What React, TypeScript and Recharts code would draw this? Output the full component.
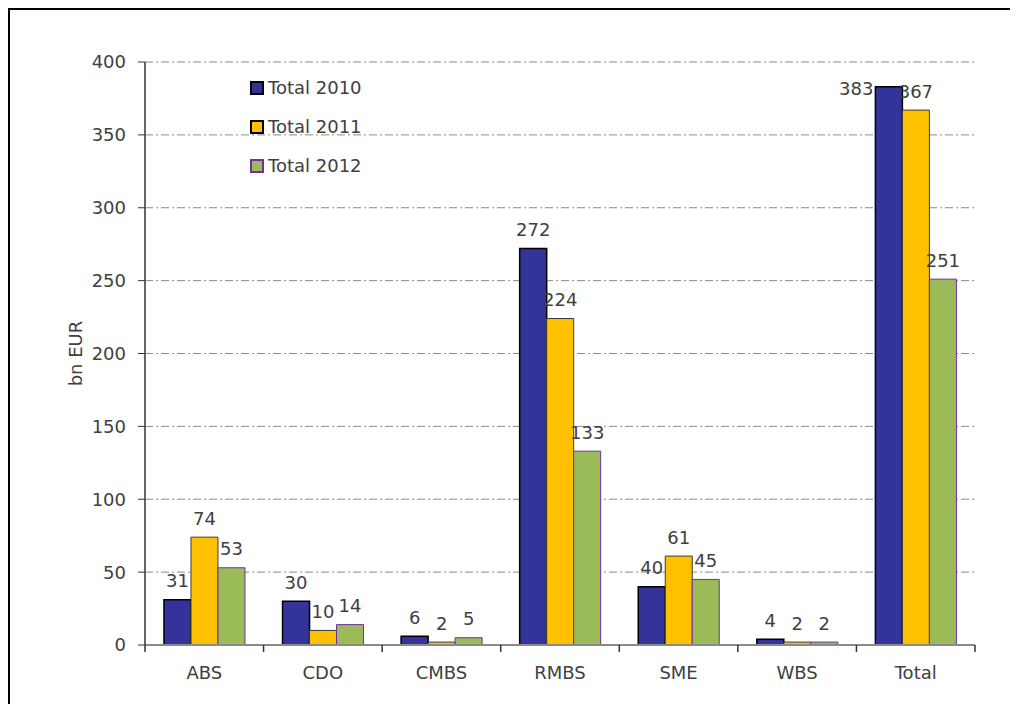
import React from 'react';
import { BarChart, Bar, XAxis, YAxis, CartesianGrid, LabelList } from 'recharts';

const categories = ["ABS", "CDO", "CMBS", "RMBS", "SME", "WBS", "Total"];
const total2010 = [31, 30, 6, 272, 40, 4, 383];
const total2011 = [74, 10, 2, 224, 61, 2, 367];
const total2012 = [53, 14, 5, 133, 45, 2, 251];
const yTicks = [0, 50, 100, 150, 200, 250, 300, 350, 400];

const series = [
  { key: "t2010", name: "Total 2010", fill: "#333399", stroke: "#000000", width: 1.5 },
  { key: "t2011", name: "Total 2011", fill: "#FFC000", stroke: "#3a3a3a", width: 1 },
  { key: "t2012", name: "Total 2012", fill: "#9BBB59", stroke: "#7030A0", width: 1 },
];

const data = categories.map((c, i) => ({
  name: c,
  t2010: total2010[i],
  t2011: total2011[i],
  t2012: total2012[i],
}));

const FONT = "'DejaVu Sans', sans-serif";
const TEXT = "#404040";

const BarValue = (props: any) => {
  const { x, y, width, value } = props;
  if (y < 85) {
    return (
      <text x={x - 2} y={y + 2} textAnchor="end" dominantBaseline="central" fill={TEXT} fontSize={18} fontFamily={FONT}>
        {value}
      </text>
    );
  }
  return (
    <text x={x + width / 2} y={y - 19} textAnchor="middle" dominantBaseline="central" fill={TEXT} fontSize={18} fontFamily={FONT}>
      {value}
    </text>
  );
};

const XTick = (props: any) => {
  const { x, y, payload, index } = props;
  const off = payload.offset || 830 / categories.length / 2;
  return (
    <g>
      <line x1={x - off} y1={y} x2={x - off} y2={y + 7} stroke="#333" strokeWidth={1.5} />
      {index === categories.length - 1 && (
        <line x1={x + off} y1={y} x2={x + off} y2={y + 7} stroke="#333" strokeWidth={1.5} />
      )}
      <text x={x} y={y + 27} textAnchor="middle" dominantBaseline="central" fill={TEXT} fontSize={18} fontFamily={FONT}>
        {payload.value}
      </text>
    </g>
  );
};

const LegendBox = () => (
  <div style={{ position: 'absolute', left: 242, top: 60, fontFamily: FONT, fontSize: 18, color: TEXT }}>
    {series.map((s) => (
      <div key={s.key} style={{ display: 'flex', alignItems: 'center', height: 39 }}>
        <span
          style={{
            display: 'inline-block',
            width: 10,
            height: 10,
            background: s.fill,
            border: `2px solid ${s.key === 't2012' ? '#7030A0' : '#000'}`,
            marginRight: 4,
          }}
        />
        <span>{s.name}</span>
      </div>
    ))}
  </div>
);

export default function App() {
  return (
    <div style={{ position: 'relative', width: 1010, height: 696, borderTop: '2px solid #000', borderLeft: '2px solid #000', boxSizing: 'border-box', background: '#fff' }}>
      <div style={{ position: 'absolute', left: -2, top: -2 }}>
        <BarChart
          width={1010}
          height={696}
          data={data}
          margin={{ top: 54, right: 43, left: 0, bottom: 0 }}
          barCategoryGap="16%"
          barGap={0}
        >
          <CartesianGrid vertical={false} stroke="#8a8a8a" strokeDasharray="8 3 2 3" yAxisId="left" />
          <XAxis
            dataKey="name"
            height={59}
            axisLine={{ stroke: '#8a8a8a', strokeWidth: 2 }}
            tickLine={false}
            tickSize={0}
            tickMargin={0}
            tick={<XTick />}
            interval={0}
          />
          <XAxis xAxisId="top" orientation="top" height={0} tick={false} tickLine={false} axisLine={{ stroke: '#8a8a8a', strokeWidth: 2 }} />
          <YAxis
            yAxisId="left"
            width={137}
            domain={[0, 400]}
            ticks={yTicks}
            allowDataOverflow
            axisLine={{ stroke: '#666', strokeWidth: 2 }}
            tickLine={{ stroke: '#333' }}
            tickSize={7}
            tickMargin={12}
            tick={{ fill: TEXT, fontSize: 18, fontFamily: FONT }}
            label={{
              content: (p: any) => {
                const vb = p.viewBox || {};
                const cx = 67;
                const cy = (vb.y || 54) + (vb.height || 583) / 2;
                return (
                  <text x={cx} y={cy} transform={`rotate(-90 ${cx} ${cy})`} textAnchor="middle" dominantBaseline="central" fill={TEXT} fontSize={18} fontFamily={FONT}>
                    bn EUR
                  </text>
                );
              },
            }}
          />
          <YAxis yAxisId="right" orientation="right" width={0} tick={false} tickLine={false} axisLine={{ stroke: '#8a8a8a', strokeWidth: 2 }} />
          {series.map((s) => (
            <Bar
              key={s.key}
              yAxisId="left"
              dataKey={s.key}
              name={s.name}
              fill={s.fill}
              stroke={s.stroke}
              strokeWidth={s.width}
              isAnimationActive={false}
            >
              <LabelList dataKey={s.key} content={<BarValue />} />
            </Bar>
          ))}
        </BarChart>
        <LegendBox />
      </div>
    </div>
  );
}
